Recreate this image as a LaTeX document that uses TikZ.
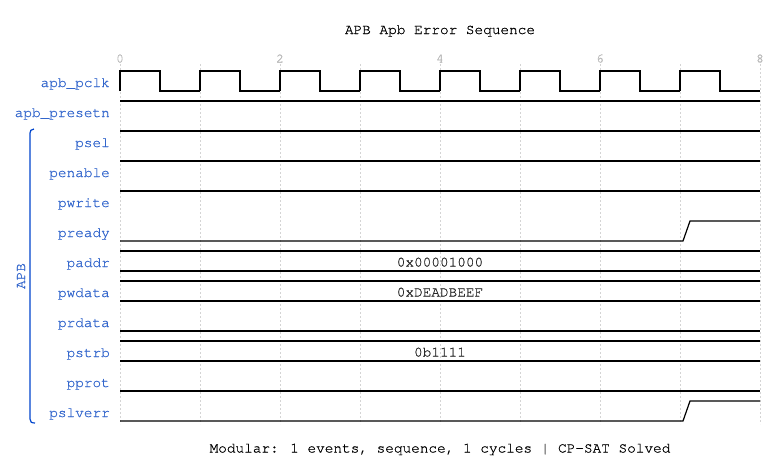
\documentclass[tikz,border=0pt]{standalone}
\usepackage{fontspec}
\setmainfont{TeX Gyre Cursor}[FakeBold=0.7]
\definecolor{sigblue}{RGB}{51,102,204}
\definecolor{grpblue}{RGB}{0,68,204}
\definecolor{gridgray}{RGB}{212,212,212}
\definecolor{tickgray}{RGB}{185,185,185}
\definecolor{valgray}{RGB}{40,40,40}
\newcommand{\wfont}{\fontsize{14.4}{16}\selectfont}
\begin{document}
\begin{tikzpicture}[x=1pt, y=-1pt,
  siglabel/.style={anchor=base east, inner sep=0pt, text=sigblue, font=\wfont},
  busval/.style={anchor=base, inner sep=0pt, text=valgray, font=\wfont},
  ticklbl/.style={anchor=base, inner sep=0pt, text=tickgray, font=\fontsize{13}{15}\selectfont},
  gridline/.style={gridgray, line width=0.8pt, dash pattern=on 2pt off 2pt},
  wave/.style={black, line width=1.2pt, line join=miter}]
  \useasboundingbox (0,0) rectangle (780,472);

  % Titolo
  \node[anchor=base, inner sep=0pt, font=\wfont] (title) at (440,34) {APB Apb Error Sequence};

  % Griglia e tacche del tempo
  \foreach \k in {0,...,8}
    \draw[gridline] ({120+80*\k},64) -- ({120+80*\k},424);
  \foreach \k in {0,2,4,6,8}
    \node[ticklbl] (tick\k) at ({120+80*\k},62.5) {\k};

  % Nomi dei segnali
  \foreach \id/\txt [count=\i from 0] in {pclk/apb\_pclk, presetn/apb\_presetn,
      psel/psel, penable/penable, pwrite/pwrite, pready/pready, paddr/paddr,
      pwdata/pwdata, prdata/prdata, pstrb/pstrb, pprot/pprot, pslverr/pslverr}
    \node[siglabel] (lbl-\id) at (110,{87+30*\i}) {\txt};

  % Gruppo APB
  \draw[grpblue, line width=1.2pt]
    (34,129) .. controls (31,129.5) and (30,130.5) .. (30,133)
    -- (30,419)
    .. controls (30,422) and (31.5,423) .. (35,423);
  \node[rotate=90, inner sep=0pt, text=sigblue, font=\wfont] (grp) at (21,276) {APB};

  % Clock
  \foreach \k in {0,...,7}
    \draw[wave] ({120+80*\k},91) -- ++(0,-20) -- ++(40,0) -- ++(0,20) -- ++(40,0);

  % Livelli costanti
  \draw[wave] (120,101) -- (760,101); % apb_presetn
  \draw[wave] (120,131) -- (760,131); % psel
  \draw[wave] (120,161) -- (760,161); % penable
  \draw[wave] (120,191) -- (760,191); % pwrite
  \draw[wave] (120,331) -- (760,331); % prdata
  \draw[wave] (120,391) -- (760,391); % pprot

  % Fronti di salita
  \draw[wave] (120,241) -- (683,241) -- (690,221) -- (760,221); % pready
  \draw[wave] (120,421) -- (683,421) -- (690,401) -- (760,401); % pslverr

  % Bus
  \draw[wave] (120,251) -- (760,251) (120,271) -- (760,271); % paddr
  \draw[wave] (120,281) -- (760,281) (120,301) -- (760,301); % pwdata
  \draw[wave] (120,341) -- (760,341) (120,361) -- (760,361); % pstrb
  \node[busval] (val-paddr) at (440,266.5) {0x00001000};
  \node[busval] (val-pwdata) at (440,296.5) {0xDEADBEEF};
  \node[busval] (val-pstrb) at (440,356.5) {0b1111};

  % Nota in basso
  \node[anchor=base, inner sep=0pt, font=\wfont] (footer) at (440,452.5)
    {Modular: 1 events, sequence, 1 cycles | CP-SAT Solved};
\end{tikzpicture}
\end{document}
